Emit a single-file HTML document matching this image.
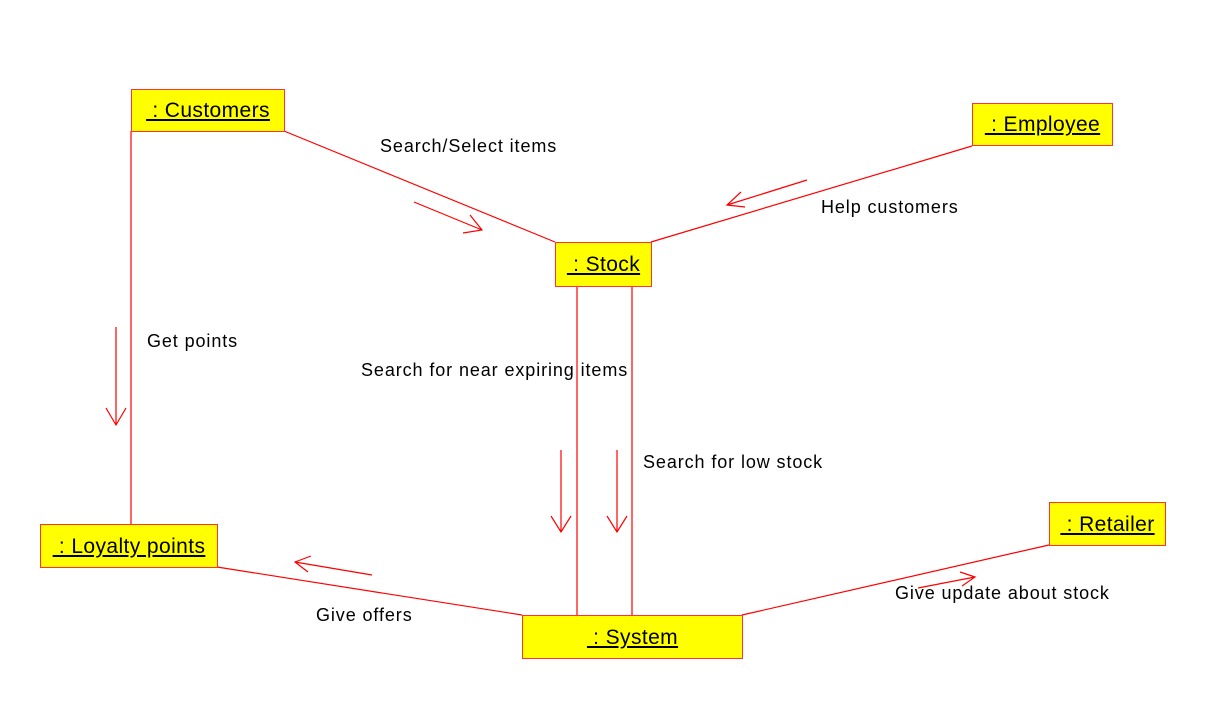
<!DOCTYPE html>
<html><head><style>
body{margin:0;background:#fff;width:1232px;height:714px;overflow:hidden;position:relative;font-family:"Liberation Sans",sans-serif}
.b{position:absolute;background:#ff0;border:1px solid #f33;box-sizing:border-box;text-align:center;font-size:21px;letter-spacing:0.4px;text-decoration:underline;color:#000;white-space:nowrap}
.t{position:absolute;font-size:18px;letter-spacing:0.9px;color:#000;white-space:nowrap}
svg{position:absolute;left:0;top:0}
</style></head><body>
<svg width="1232" height="714" stroke="#f00" stroke-width="1.2" fill="none">
<line x1="284" y1="131" x2="555" y2="242"/>
<line x1="972" y1="146" x2="651" y2="242"/>
<line x1="131" y1="131" x2="131" y2="524"/>
<line x1="577" y1="286" x2="577" y2="615"/>
<line x1="632" y1="286" x2="632" y2="615"/>
<line x1="217" y1="567" x2="522" y2="615"/>
<line x1="742" y1="615" x2="1049" y2="545"/>
<path d="M414 202 L482 230 M463 233 L482 230 L470 215"/>
<path d="M807 180 L727 205 M741 192 L727 205 L745 207"/>
<path d="M116 327 L116 425 M106 408 L116 425 L126 408"/>
<path d="M561 450 L561 532 M551 516 L561 532 L571 516"/>
<path d="M617 450 L617 532 M607 516 L617 532 L627 516"/>
<path d="M372 575 L295 562 M311 556 L295 562 L308 572"/>
<path d="M918 588 L975 577 M960 572 L975 577 L962 586"/>
</svg>
<div class="b" style="left:131px;top:89px;width:154px;height:43px;line-height:42px">&nbsp;: Customers</div>
<div class="b" style="left:972px;top:103px;width:141px;height:43px;line-height:42px">&nbsp;: Employee</div>
<div class="b" style="left:555px;top:242px;width:97px;height:45px;line-height:44px">&nbsp;: Stock</div>
<div class="b" style="left:40px;top:524px;width:178px;height:44px;line-height:43px">&nbsp;: Loyalty points</div>
<div class="b" style="left:522px;top:615px;width:221px;height:44px;line-height:43px">&nbsp;: System</div>
<div class="b" style="left:1049px;top:502px;width:117px;height:44px;line-height:43px">&nbsp;: Retailer</div>
<div class="t" style="left:380px;top:136px">Search/Select items</div>
<div class="t" style="left:821px;top:197px">Help customers</div>
<div class="t" style="left:147px;top:331px">Get points</div>
<div class="t" style="left:361px;top:360px">Search for near expiring items</div>
<div class="t" style="left:643px;top:452px">Search for low stock</div>
<div class="t" style="left:316px;top:605px">Give offers</div>
<div class="t" style="left:895px;top:583px">Give update about stock</div>
</body></html>
